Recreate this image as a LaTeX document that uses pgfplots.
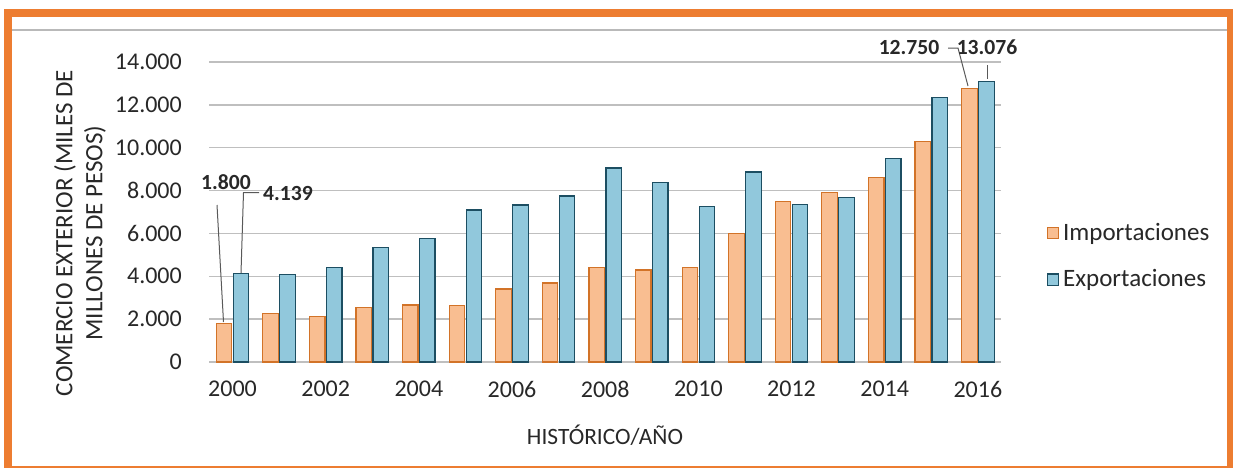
\documentclass[border=0pt]{standalone}
\usepackage{pgfplots}
\pgfplotsset{compat=1.18}
\usepackage{fontspec}
\setmainfont{Carlito}
\definecolor{frameor}{RGB}{237,125,49}
\definecolor{impfill}{RGB}{249,190,145}
\definecolor{impdraw}{RGB}{210,115,40}
\definecolor{expfill}{RGB}{145,200,220}
\definecolor{expdraw}{RGB}{28,78,98}
\definecolor{gridg}{RGB}{191,191,191}
\definecolor{txt}{RGB}{40,40,40}
\begin{document}
\begin{tikzpicture}
\fontsize{10.5}{12.6}\selectfont
% frame
\path[use as bounding box] (0,0) rectangle (616.5pt,234pt);
\fill[frameor] (2pt,0.2pt) rectangle (616.5pt,229.5pt);
\fill[white] (6pt,1.0pt) rectangle (613.5pt,225.5pt);
\draw[gray!55,line width=0.6pt] (6pt,219pt) -- (613.5pt,219pt);
\begin{axis}[
  at={(104.6pt,53pt)}, anchor=south west,
  scale only axis, width=396pt, height=150pt,
  xmin=-0.5, xmax=16.5, ymin=0, ymax=14000,
  ybar, bar width=7.75pt,
  xtick={0,2,...,16},
  xticklabels={2000,2002,2004,2006,2008,2010,2012,2014,2016},
  ytick={0,2000,...,14000},
  /pgf/number format/1000 sep={.},
  /pgf/number format/assume math mode=true,
  scaled y ticks=false,
  major tick length=0pt,
  axis x line*=bottom,
  axis y line*=left,
  y axis line style={draw=none},
  x axis line style={gridg,line width=0.75pt,-},
  ymajorgrids, grid style={gridg,line width=0.75pt},
  tick label style={font=\fontsize{12}{14}\selectfont,text=txt},
  yticklabel style={xshift=-10pt},
  xticklabel style={yshift=-6pt},
  legend style={at={(1.057,0.352)},anchor=west,draw=none,fill=none,
    font=\fontsize{12.5}{15}\selectfont,text=txt,
    row sep=9pt, inner sep=0pt},
  legend cell align=left,
  legend image code/.code={\draw[#1,line width=0.6pt] (0pt,-2.8pt) rectangle (5.6pt,2.8pt);},
]
\addplot[fill=impfill,draw=impdraw,line width=0.6pt,bar shift=-4.25pt] coordinates {
(0,1800) (1,2270) (2,2130) (3,2540) (4,2660) (5,2630) (6,3410) (7,3690) (8,4400)
(9,4290) (10,4400) (11,5980) (12,7480) (13,7900) (14,8600) (15,10300) (16,12750)};
\addlegendentry{Importaciones}
\addplot[fill=expfill,draw=expdraw,line width=0.6pt,bar shift=4.25pt] coordinates {
(0,4139) (1,4090) (2,4420) (3,5350) (4,5770) (5,7090) (6,7330) (7,7750) (8,9050)
(9,8380) (10,7260) (11,8870) (12,7340) (13,7680) (14,9500) (15,12350) (16,13076)};
\addlegendentry{Exportaciones}
\end{axis}
\begin{scope}[x=0.5pt,y=-0.5pt,yshift=234pt]
% y label
\node[rotate=90,align=center,text=txt,font=\fontsize{12.5}{15}\selectfont] at (80,233)
  {COMERCIO EXTERIOR (MILES DE\\MILLONES DE PESOS)};
% x label
\node[text=txt,font=\fontsize{11.7}{14}\selectfont] at (605,435) {HISTÓRICO/AÑO};
% annotations
\draw[gray!70!black,line width=0.5pt] (217,205) -- (223.5,322);
\node[font=\fontsize{10.8}{12.6}\selectfont\bfseries,text=txt] at (226,182) {1.800};
\draw[gray!70!black,line width=0.5pt] (259,192.5) -- (243.5,192.5) -- (241,273);
\node[font=\fontsize{10.8}{12.6}\selectfont\bfseries,text=txt] at (288,193) {4.139};
\node[font=\fontsize{10.8}{12.6}\selectfont\bfseries,text=txt] at (909,47) {12.750};
\draw[gray!70!black,line width=0.5pt] (948,48) -- (958,48) -- (968,86);
\node[font=\fontsize{10.8}{12.6}\selectfont\bfseries,text=txt] at (987,47) {13.076};
\draw[gray!70!black,line width=0.5pt] (987,65) -- (987,79);
\end{scope}
\end{tikzpicture}
\end{document}
